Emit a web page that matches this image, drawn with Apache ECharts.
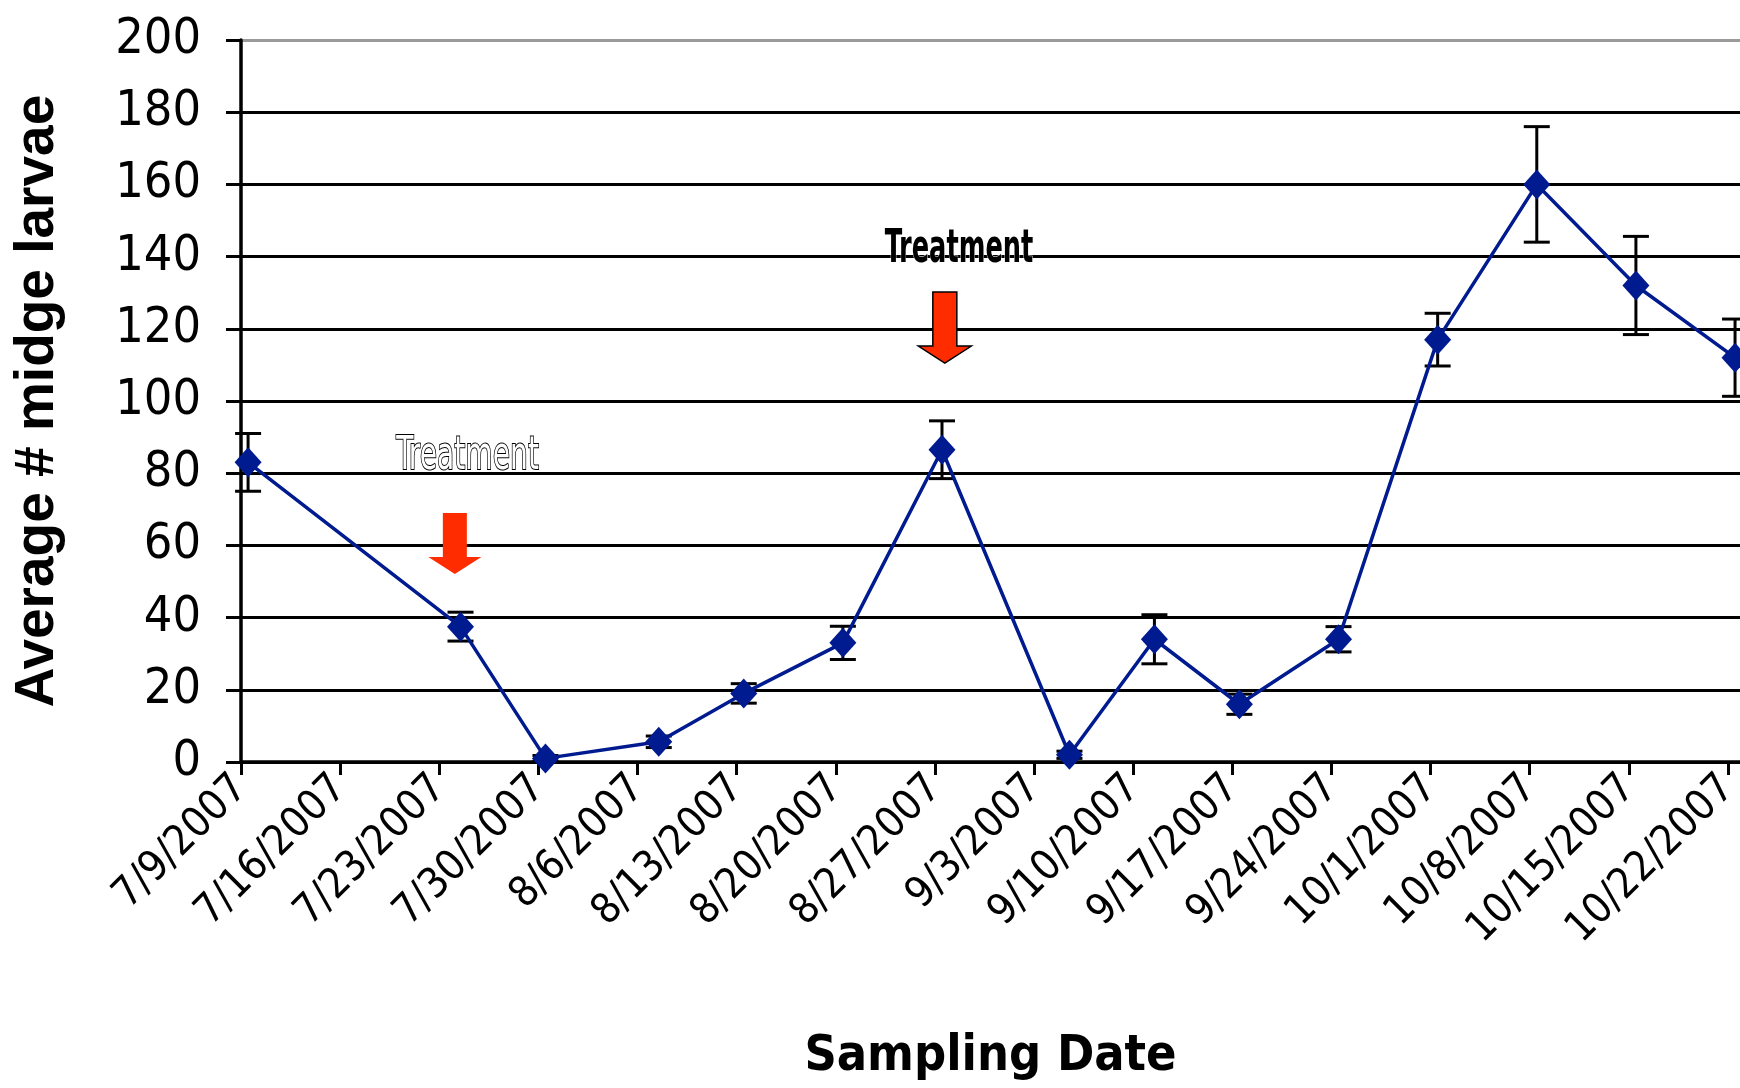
<!DOCTYPE html>
<html>
<head>
<meta charset="utf-8">
<script src="https://cdn.jsdelivr.net/npm/echarts@6/dist/echarts.min.js"></script>
<style>
html,body{margin:0;padding:0;background:#fff;}
#chart{width:1740px;height:1088px;}
</style>
</head>
<body>
<div id="chart"></div>
<script>
// ---- data ----
const tickLabels = ['7/9/2007','7/16/2007','7/23/2007','7/30/2007','8/6/2007','8/13/2007','8/20/2007','8/27/2007',
  '9/3/2007','9/10/2007','9/17/2007','9/24/2007','10/1/2007','10/8/2007','10/15/2007','10/22/2007'];
const sampleDates = ['2007-07-09','2007-07-24','2007-07-30','2007-08-07','2007-08-13','2007-08-20','2007-08-27',
  '2007-09-05','2007-09-11','2007-09-17','2007-09-24','2007-10-01','2007-10-08','2007-10-15','2007-10-22'];
const meanLarvae = [83, 37.5, 1, 5.6, 19, 33, 86.5, 2, 34, 16, 34, 117, 160, 132, 112];
const errLarvae  = [8, 4, 0.8, 1.6, 2.7, 4.6, 8, 1, 6.8, 2.8, 3.5, 7.3, 16, 13.6, 10.7];
const yTicks = [0, 20, 40, 60, 80, 100, 120, 140, 160, 180, 200];
// treatment annotations (x in days from 7/9/2007, y in larvae units)
const treatmentText = ['Treatment', 'Treatment'];
const treatmentTextPos = [[16.0, 84.5], [50.7, 141.8]];
const treatmentArrow = [[15.1, 69.0, 52.1], [49.7, 130.2, 110.5]]; // x, top, tip

// ---- helpers ----
const DAY = 86400000;
const start = Date.UTC(2007, 6, 9);
function dayOf(s) { const p = s.split('-'); return (Date.UTC(+p[0], +p[1]-1, +p[2]) - start) / DAY; }
// Excel date axis: points sit in the middle of their day
const xs = sampleDates.map(d => dayOf(d) + 0.5);
const lineData = xs.map((x, i) => [x, meanLarvae[i]]);
const errData = xs.map((x, i) => [x, meanLarvae[i] - errLarvae[i], meanLarvae[i] + errLarvae[i]]);
const tickDays = tickLabels.map((_, i) => i * 7);

const NARROW = '"Liberation Sans Narrow", "Arial Narrow", "DejaVu Sans Condensed", sans-serif';
const chart = echarts.init(document.getElementById('chart'));
const splitColors = yTicks.map((v, i) => i === yTicks.length - 1 ? '#9a9a9a' : '#000');

chart.setOption({
  animation: false,
  backgroundColor: '#fff',
  grid: { left: 241, right: 0, top: 40, bottom: 326, containLabel: false, outerBoundsMode: 'none' },
  xAxis: {
    type: 'value', min: 0, max: 105.85,
    axisLine: { show: true, onZero: false, lineStyle: { color: '#000', width: 3.5 } },
    axisTick: { show: true, length: 13, lineStyle: { color: '#000', width: 3 }, customValues: tickDays },
    axisLabel: {
      customValues: tickDays, rotate: 45, margin: 20, color: '#000',
      fontFamily: NARROW, fontSize: 42,
      formatter: v => tickLabels[Math.round(v / 7)] || ''
    },
    splitLine: { show: false },
    name: 'Sampling Date', nameLocation: 'middle', nameGap: 270, nameMoveOverlap: false,
    nameTextStyle: { fontFamily: NARROW, fontWeight: 'bold', fontSize: 50, color: '#000' }
  },
  yAxis: {
    type: 'value', min: 0, max: 200, interval: 20,
    axisLine: { show: true, lineStyle: { color: '#000', width: 3.5 } },
    axisTick: { show: true, length: 15, lineStyle: { color: '#000', width: 3 } },
    axisLabel: { margin: 40, color: '#000', fontFamily: NARROW, fontSize: 50 },
    splitLine: { show: true, lineStyle: { color: splitColors, width: 3 } },
    name: 'Average # midge larvae', nameLocation: 'middle', nameGap: 176, nameMoveOverlap: false,
    nameTextStyle: { fontFamily: '"Liberation Sans", Arial, sans-serif', fontWeight: 'bold', fontSize: 55, color: '#000' }
  },
  series: [
    {
      type: 'custom', name: 'error', z: 2,
      data: errData,
      encode: { x: 0, y: [1, 2] },
      renderItem: function (params, api) {
        const x = api.value(0);
        const lo = api.coord([x, api.value(1)]);
        const hi = api.coord([x, api.value(2)]);
        const hw = 13;
        const st = { stroke: '#000', lineWidth: 3 };
        return { type: 'group', children: [
          { type: 'line', shape: { x1: hi[0], y1: hi[1], x2: lo[0], y2: lo[1] }, style: st },
          { type: 'line', shape: { x1: hi[0] - hw, y1: hi[1], x2: hi[0] + hw, y2: hi[1] }, style: st },
          { type: 'line', shape: { x1: lo[0] - hw, y1: lo[1], x2: lo[0] + hw, y2: lo[1] }, style: st }
        ]};
      }
    },
    {
      type: 'line', name: 'mean', z: 5,
      data: lineData,
      symbol: 'diamond', symbolSize: [27, 30],
      lineStyle: { color: '#001a8f', width: 3.5 },
      itemStyle: { color: '#001a8f' }
    },
    {
      type: 'custom', name: 'arrows', z: 6,
      data: treatmentArrow,
      encode: { x: 0, y: [1, 2] },
      renderItem: function (params, api) {
        const x = api.value(0);
        const top = api.coord([x, api.value(1)]);
        const tip = api.coord([x, api.value(2)]);
        const cx = tip[0], sw = 12, hwid = 26.5, hh = 17;
        const pts = [
          [cx - sw, top[1]], [cx + sw, top[1]], [cx + sw, tip[1] - hh], [cx + hwid, tip[1] - hh],
          [cx, tip[1]], [cx - hwid, tip[1] - hh], [cx - sw, tip[1] - hh]
        ];
        const outlined = params.dataIndex === 1;
        return { type: 'polygon', shape: { points: pts },
          style: { fill: '#ff2c00', stroke: outlined ? '#000' : null, lineWidth: outlined ? 1.5 : 0 } };
      }
    },
    {
      type: 'custom', name: 'labels', z: 7,
      data: treatmentTextPos,
      renderItem: function (params, api) {
        const p = api.coord([api.value(0), api.value(1)]);
        const first = params.dataIndex === 0;
        return { type: 'text', x: p[0], y: p[1], scaleX: first ? 0.68 : 0.62,
          style: {
            text: treatmentText[params.dataIndex], align: 'center', verticalAlign: 'middle',
            font: (first ? 'normal ' : 'bold ') + '46px ' + NARROW,
            fill: first ? '#fff' : '#000',
            stroke: first ? '#000' : '#fff', lineWidth: first ? 2 : 1
          } };
      }
    }
  ]
});
</script>
</body>
</html>
